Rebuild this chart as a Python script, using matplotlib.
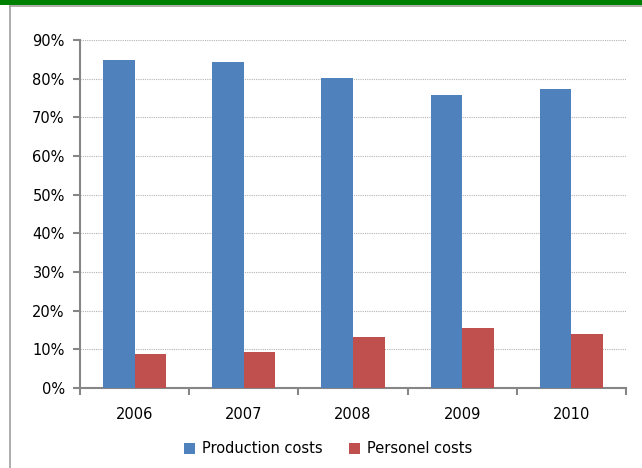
import matplotlib.pyplot as plt
import matplotlib.lines as mlines
import matplotlib.patches as mpatches
import numpy as np

years = ['2006', '2007', '2008', '2009', '2010']
production = [84.9, 84.3, 80.2, 75.8, 77.4]
personel = [8.8, 9.2, 13.2, 15.4, 14.0]
yticks = [0, 10, 20, 30, 40, 50, 60, 70, 80, 90]

plt.rcParams['font.family'] = ['DejaVu Sans']

fig = plt.figure(figsize=(6.42, 4.68), dpi=100)
ax = fig.add_axes([80 / 642, 80 / 468, 546 / 642, 348 / 468])

# frame around the chart: green band on top, grey border
fig.add_artist(mpatches.Rectangle((0, 1 - 4.5 / 468), 1, 4.5 / 468, transform=fig.transFigure,
                                  color='#008000', lw=0))
fig.add_artist(mlines.Line2D([10 / 642, 10 / 642], [0, 1 - 5.5 / 468], transform=fig.transFigure,
                             color='#a0a0a0', lw=1.2))
fig.add_artist(mlines.Line2D([10 / 642, 1], [1 - 5.5 / 468, 1 - 5.5 / 468], transform=fig.transFigure,
                             color='#a0a0a0', lw=1.2))

x = np.arange(len(years))
w = 0.29
ax.bar(x - w / 2, production, w, color='#4f81bd', label='Production costs', zorder=3)
ax.bar(x + w / 2, personel, w, color='#c0504d', label='Personel costs', zorder=3)

ax.set_xlim(-0.5, len(years) - 0.5)
ax.set_ylim(0, 90)
ax.set_yticks(yticks)
ax.set_yticklabels([f'{v}%' for v in yticks], fontsize=10.5)
ax.set_xticks(x)
ax.set_xticklabels(years, fontsize=10.5)
ax.set_xticks(np.arange(-0.5, len(years)), minor=True)
ax.tick_params(axis='x', which='major', length=0, pad=14)
ax.tick_params(axis='x', which='minor', length=5, width=1.5, color='#868686', direction='out')
ax.tick_params(axis='y', length=5, width=1.5, color='#868686', pad=6)

ax.yaxis.grid(True, linestyle=(0, (1, 1)), color='#b4b4b4', lw=0.8, zorder=0)
ax.set_axisbelow(True)
for s in ['top', 'right']:
    ax.spines[s].set_visible(False)
for s in ['left', 'bottom']:
    ax.spines[s].set_color('#868686')
    ax.spines[s].set_linewidth(1.5)

ax.legend(loc='center', bbox_to_anchor=(0.455, -0.175), ncol=2, frameon=False, fontsize=10.5,
          handlelength=0.75, handleheight=0.75, handletextpad=0.5, columnspacing=1.8)

fig.savefig('out.png', dpi=100)
